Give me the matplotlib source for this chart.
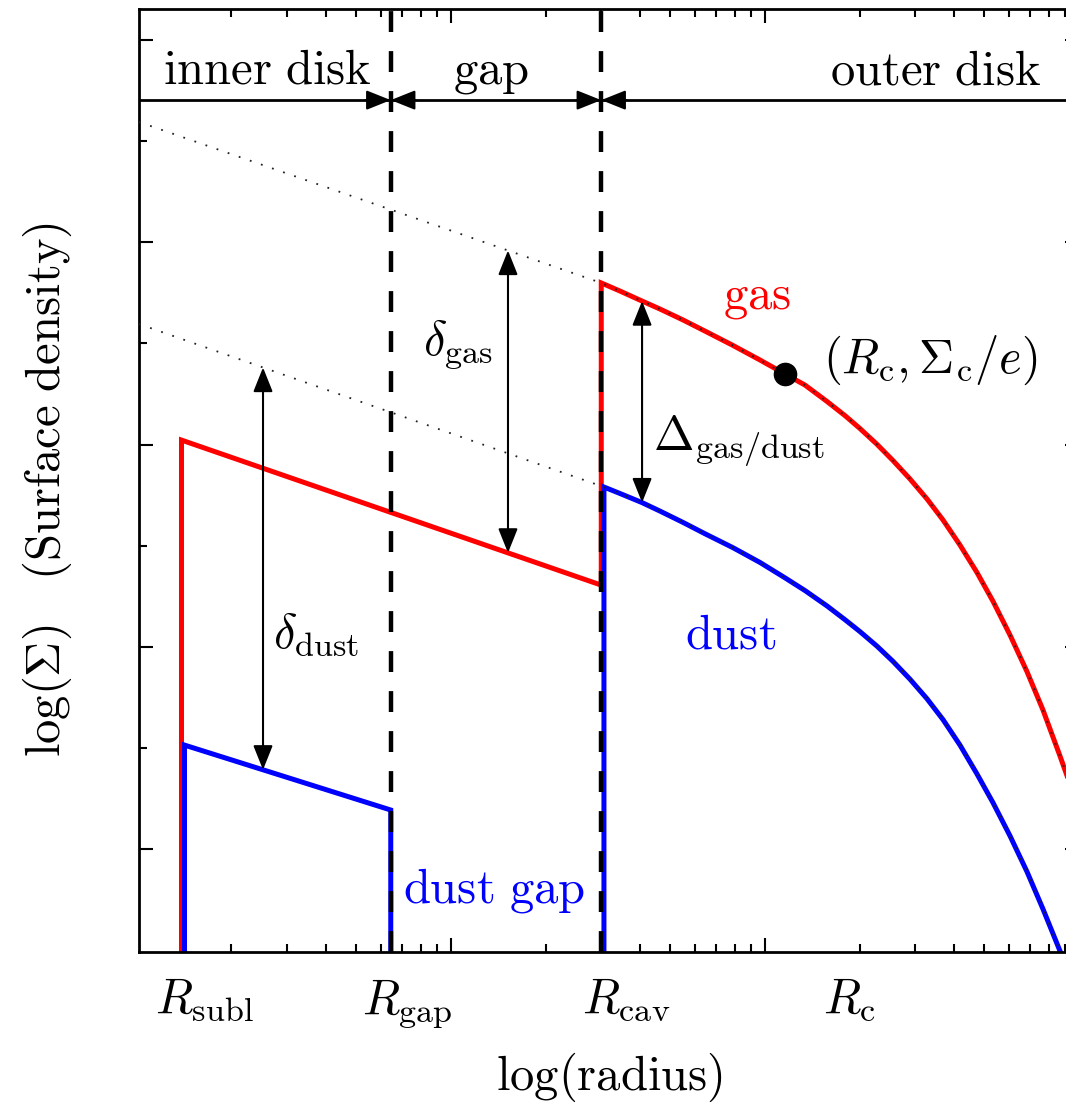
import numpy as np
import matplotlib
matplotlib.use('Agg')
import matplotlib.pyplot as plt
from matplotlib.ticker import LogLocator, NullFormatter, FixedLocator
from matplotlib.transforms import blended_transform_factory

plt.rcParams['mathtext.fontset'] = 'cm'
plt.rcParams['font.family'] = 'serif'

# ---------------- data (radius in arbitrary units, L = log10 Sigma) ----------------
R_subl_gas = 1.386
R_subl_dust = 1.417
R_gap = 6.43
R_cav = 30.1
R_cav_dust = 30.7
R_c = 115.8
L_c_e = 2.349

gas_inner_R = [1.386, 1.386, 30.1, 30.1]
gas_inner_L = [-0.8, 2.022, 1.305, 2.799]
gas_outer_R = [30.1, 34.53, 40.0, 46.30, 54.82, 64.40, 79.09, 96.40, 115.8, 134.1,
               157.6, 179.8, 200.7, 227.4, 255.6, 289.5, 328.1, 368.9, 417.8, 473.4,
               532.3, 603.0, 683.0, 768.1, 869.9, 936.2, 1000.0]
gas_outer_L = [2.799, 2.759, 2.714, 2.670, 2.616, 2.561, 2.490, 2.418, 2.349, 2.294,
               2.213, 2.143, 2.079, 2.001, 1.921, 1.830, 1.731, 1.627, 1.503, 1.367,
               1.225, 1.058, 0.877, 0.687, 0.460, 0.321, 0.188]

dust_inner_R = [1.417, 1.417, 6.43, 6.43]
dust_inner_L = [-0.8, 0.514, 0.193, -0.8]
dust_outer_R = [30.7, 30.7, 34.53, 40.59, 46.30, 54.82, 64.40, 79.09, 96.40, 115.8,
                134.1, 157.6, 179.8, 200.7, 227.4, 255.6, 289.5, 328.1, 368.9, 417.8,
                473.4, 532.3, 603.0, 683.0, 768.1, 869.9, 936.2]
dust_outer_L = [-0.8, 1.790, 1.758, 1.713, 1.671, 1.615, 1.559, 1.490, 1.417, 1.341,
                1.278, 1.202, 1.134, 1.075, 1.003, 0.928, 0.840, 0.743, 0.640, 0.514,
                0.371, 0.229, 0.065, -0.112, -0.297, -0.504, -0.633]

# undepleted profiles (dotted) in the inner part
gas_undepl_R = [1.015, 30.1]
gas_undepl_L = [3.595, 2.799]
dust_undepl_R = [1.015, 30.7]
dust_undepl_L = [2.596, 1.790]

arrow_R = [2.52, 15.19, 40.6]     # delta_dust, delta_gas, Delta_gas/dust
band_L = 3.703                    # horizontal separator of the region band

region_labels = ['inner disk', 'gap', 'outer disk']
x_labels = [r'$R_{\rm subl}$', r'$R_{\rm gap}$', r'$R_{\rm cav}$', r'$R_{\rm c}$']

# ---------------- figure ----------------
W, H = 1066, 1102
fig = plt.figure(figsize=(W / 100, H / 100), dpi=100)
ax = fig.add_axes([139 / W, 1 - 952 / H, (1079 - 139) / W, (952 - 9.3) / H])
ax.set_xscale('log')
ax.set_xlim(1.015, 1000)
ax.set_ylim(-0.509, 4.152)

RED = '#ff0000'
BLUE = '#0000ff'
LW = 3.6
FS = 35

gas_R = gas_inner_R + gas_outer_R[1:]
gas_L = gas_inner_L + gas_outer_L[1:]
ax.plot(gas_R, gas_L, color=RED, lw=LW, solid_joinstyle='miter', zorder=2)
ax.plot(dust_inner_R, dust_inner_L, color=BLUE, lw=LW, solid_joinstyle='miter', zorder=2.1)
ax.plot(dust_outer_R, dust_outer_L, color=BLUE, lw=LW, solid_joinstyle='miter', zorder=2.1)

# dotted undepleted profiles (continuing along the outer curves)
ax.plot(gas_undepl_R + gas_outer_R[1:], gas_undepl_L + gas_outer_L[1:],
        color='#222222', lw=1.3, ls=(0, (1, 5.5)), zorder=3)
ax.plot(dust_undepl_R + dust_outer_R[2:], dust_undepl_L + dust_outer_L[2:],
        color='#222222', lw=1.3, ls=(0, (1, 5.5)), zorder=3)

# dashed boundaries
for rb in [R_gap, R_cav]:
    ax.axvline(rb, color='black', lw=3.2, ls=(0, (4.7, 4.3)), zorder=4)

# region band
ax.axhline(band_L, color='black', lw=2.0, zorder=4)
for rb in [R_gap, R_cav]:
    for side in (-1, 1):
        ax.annotate('', xy=(rb, band_L), xytext=(rb * 10 ** (side * 25 / 314), band_L),
                    arrowprops=dict(arrowstyle='-|>,head_length=0.75,head_width=0.3',
                                    mutation_scale=20, lw=1.5, color='black',
                                    shrinkA=0, shrinkB=0), zorder=5)


def interp(R, Rs, Ls):
    return float(np.interp(np.log10(R), np.log10(Rs), Ls))


arrows = [
    (arrow_R[0], interp(arrow_R[0], dust_undepl_R, dust_undepl_L), interp(arrow_R[0], dust_inner_R[1:3], dust_inner_L[1:3])),
    (arrow_R[1], interp(arrow_R[1], gas_undepl_R, gas_undepl_L), interp(arrow_R[1], gas_inner_R[1:3], gas_inner_L[1:3])),
    (arrow_R[2], interp(arrow_R[2], gas_outer_R, gas_outer_L), interp(arrow_R[2], dust_outer_R[1:], dust_outer_L[1:])),
]
for r, top, bot in arrows:
    ax.annotate('', xy=(r, bot), xytext=(r, top),
                arrowprops=dict(arrowstyle='<|-|>,head_length=0.75,head_width=0.3',
                                mutation_scale=20, lw=1.5, color='black',
                                shrinkA=0, shrinkB=0), zorder=5)

# characteristic point
ax.plot([R_c], [L_c_e], 'o', color='black', ms=16, zorder=6)

# texts
ax.text(1.21, 3.787, r'$\mathrm{inner\ disk}$', fontsize=FS, ha='left', va='baseline')
ax.text(10.15, 3.787, r'$\mathrm{gap}$', fontsize=FS, ha='left', va='baseline')
ax.text(161, 3.778, r'$\mathrm{outer\ disk}$', fontsize=FS, ha='left', va='baseline')
ax.text(73.5, 2.675, r'$\mathrm{gas}$', fontsize=FS, color=RED, ha='left', va='baseline')
ax.text(153, 2.353, r'$(R_{\rm c},\Sigma_{\rm c}/e)$', fontsize=FS, ha='left', va='baseline')
ax.text(44.0, 1.973, r'$\Delta_{\rm gas/dust}$', fontsize=FS, ha='left', va='baseline')
ax.text(55.6, 0.994, r'$\mathrm{dust}$', fontsize=FS, color=BLUE, ha='left', va='baseline')
ax.text(7.03, -0.262, r'$\mathrm{dust\ gap}$', fontsize=FS, color=BLUE, ha='left', va='baseline')
ax.text(2.71, 0.994, r'$\delta_{\rm dust}$', fontsize=FS, ha='left', va='baseline')
ax.text(8.15, 2.447, r'$\delta_{\rm gas}$', fontsize=FS, ha='left', va='baseline')

trans = blended_transform_factory(ax.transData, ax.transAxes)
for lab, xr in zip(x_labels, [1.141, 5.21, 26.1, 153]):
    ax.text(xr, -0.0647, lab, fontsize=FS, ha='left', va='baseline', transform=trans)

fig.text(609.5 / W, 1 - 1090 / H, r'$\log(\mathrm{radius})$', fontsize=FS, ha='center', va='baseline')
fig.text(47 / W, 1 - 490 / H, r'$\log(\Sigma)\ \ \ (\mathrm{Surface\ density})$', fontsize=FS,
         ha='center', va='center', rotation=90)

# ticks
ax.xaxis.set_major_locator(LogLocator(base=10, numticks=10))
ax.xaxis.set_minor_locator(LogLocator(base=10, subs=np.arange(2, 10), numticks=10))
ax.xaxis.set_major_formatter(NullFormatter())
ax.xaxis.set_minor_formatter(NullFormatter())
ax.yaxis.set_major_locator(FixedLocator([0, 1, 2, 3, 4]))
ax.yaxis.set_minor_locator(FixedLocator([0.5, 1.5, 2.5, 3.5]))
ax.yaxis.set_major_formatter(NullFormatter())
ax.tick_params(which='both', direction='in', top=True, right=True, width=1.5)
ax.tick_params(which='major', length=10)
ax.tick_params(which='minor', length=6)
for s in ax.spines.values():
    s.set_linewidth(2.0)

fig.savefig('out.png', dpi=100)
